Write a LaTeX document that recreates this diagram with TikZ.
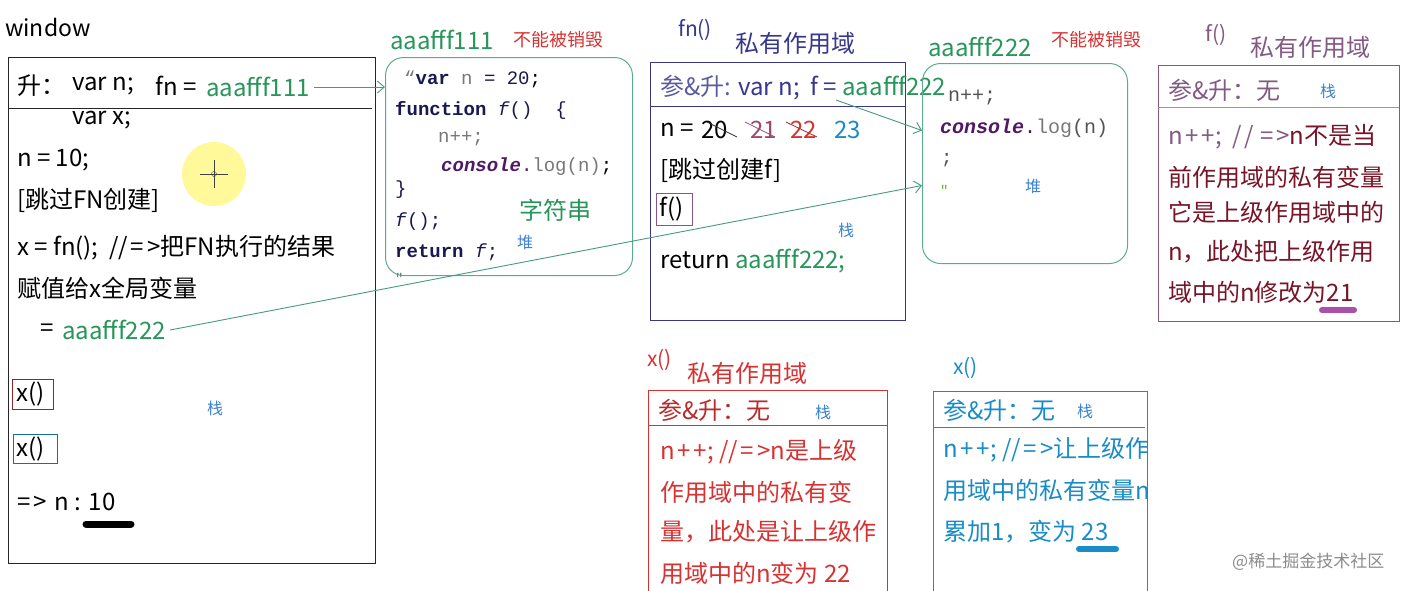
\documentclass[tikz,border=0pt]{standalone}
\usepackage{fontspec}
\setmainfont{Noto Sans CJK SC}
\newfontfamily\codefont{Liberation Mono}
\usetikzlibrary{arrows.meta}
\definecolor{cgreen}{RGB}{40,150,90}
\definecolor{arrowgreen}{RGB}{70,155,125}
\definecolor{heapborder}{RGB}{95,170,140}
\definecolor{navy}{RGB}{55,55,140}
\definecolor{navylt}{RGB}{90,90,160}
\definecolor{plum}{RGB}{140,85,130}
\definecolor{plumlt}{RGB}{130,90,130}
\definecolor{maroon}{RGB}{120,20,40}
\definecolor{cred}{RGB}{215,50,50}
\definecolor{cblue}{RGB}{25,140,200}
\definecolor{stackblue}{RGB}{60,130,210}
\definecolor{codenavy}{RGB}{25,25,80}
\definecolor{codegray}{RGB}{120,120,120}
\definecolor{codepurple}{RGB}{80,25,100}
\newcommand{\op}[1]{\hspace{0.12em}#1\hspace{0.12em}}
\begin{document}
\begin{tikzpicture}[x=1pt,y=-1pt,
  t/.style={anchor=west,inner sep=0pt,font=\fontsize{24}{24}\selectfont},
  small/.style={anchor=west,inner sep=0pt,font=\fontsize{18}{18}\selectfont},
  stk/.style={anchor=center,inner sep=0pt,text=stackblue,font=\fontsize{16}{16}\selectfont},
  code/.style={anchor=west,inner sep=0pt,font=\codefont\fontsize{19}{19}\selectfont},
  box/.style={anchor=north west,inner sep=0pt,line width=1pt},
  heap/.style={box,draw=heapborder,rounded corners=18pt},
  conn/.style={draw=arrowgreen,line width=0.9pt,-{Straight Barb[length=7pt,width=12pt]}},
  uline/.style={line width=6pt,line cap=round}
]
\useasboundingbox (0,0) rectangle (1410,590);
\fill[white] (0,0) rectangle (1410,590);

% ---------------- window ----------------
\node[t,font=\fontsize{23}{23}\selectfont] (wtitle) at (5,27) {window};
\node[box,draw=black!85,line width=1.3pt,minimum width=367pt,minimum height=506pt] (win) at (8,57) {};
\draw[black!85,line width=1pt] (8,108) -- (372,108);
\node[t] (wh1) at (17,86) {升：};
\node[t] (wh2) at (72,86) {var n;};
\node[t] (wh3) at (155,86) {fn =};
\node[t,text=cgreen] (w111) at (206,87) {aaafff111};
\node[t] (wvarx) at (72,120) {var x;};
\node[t] (wn10) at (17,160) {n = 10;};
\node[t] (wskip) at (17,200) {[跳过FN创建]};
\node[t] (wx) at (17,248) {x = fn();\ \ //\op{=}>把FN执行的结果};
\node[t] (wassign) at (17,288) {赋值给x全局变量};
\node[t] (weq) at (40,330) {=};
\node[t,text=cgreen] (w222) at (62,330) {aaafff222};
\fill[yellow!50!white,opacity=0.8] (214,174) circle (32pt);
\node[inner sep=0pt,minimum size=5pt,draw=black!70,circle] (cursor) at (214,174) {};
\draw[black!75,line width=0.8pt] (200,174) -- (228,174) (214,160) -- (214,188);
\node[box,draw=cred!70!black,minimum width=41pt,minimum height=30pt] (wxr) at (12,379) {};
\node[t] (wxrt) at (16,394) {x()};
\node[box,draw=cblue!80!black,minimum width=44pt,minimum height=29pt] (wxb) at (13,434) {};
\node[t] (wxbt) at (16,449) {x()};
\node[stk] (wstack) at (215,408) {栈};
\node[t] (wres) at (17,502) {=\op{>} n : 10};
\draw[uline,line width=7pt,black] (86,524) -- (131,524);

% ---------------- heap aaafff111 ----------------
\node[t,text=cgreen] (h111title) at (390,40) {aaafff111};
\node[small,text=cred] (h111keep) at (513,40) {不能被销毁};
\node[heap,minimum width=247pt,minimum height=218pt] (b111) at (385,57) {};
\node[code] (c1) at (404,79) {{\color{codegray}“}\textbf{\color{codenavy}var} {\color{codegray}n} {\color{codenavy}=} {\color{codenavy}20};};
\node[code] (c2) at (395,110) {\textbf{\color{codenavy}function} {\color{codenavy}\textit{f}()} \ {\color{codenavy}\{}};
\node[code,text=codegray] (c3) at (438,139) {n++;};
\node[code] (c4) at (441,167) {{\color{codepurple}\textbf{\textit{console}}.}{\color{codegray}log(n)};};
\node[code,text=codenavy] (c5) at (395,190) {\}};
\node[code,text=codenavy] (c6) at (395,222) {\textit{f}();};
\node[code,text=codenavy] (c7) at (395,252) {\textbf{return} \textit{f};};
\node[code,text=codegray,font=\codefont\fontsize{14}{14}\selectfont] (c8) at (395,278) {″};
\node[t,text=cgreen] (strlbl) at (519,210) {字符串};
\node[stk] (h111heap) at (525,242) {堆};

% ---------------- fn() scope ----------------
\node[t,text=navy,font=\fontsize{21}{21}\selectfont] (fntitle) at (678,30) {fn()};
\node[t,text=navy] (fnscope) at (735,43) {私有作用域};
\node[box,draw=navy,minimum width=255pt,minimum height=258pt] (bfn) at (650,62) {};
\draw[navy,line width=1pt] (650,106) -- (905,106);
\node[t] (fnh) at (660,88) {\textcolor{navylt}{参\&升:} \textcolor{navy}{var n;\ \ f =} \textcolor{cgreen}{aaafff222}};
\node[t] (fnn) at (660,130) {n =};
\node[t] (fn20) at (701,130) {20};
\node[t,text=plum!80!red] (fn21) at (750,130) {21};
\node[t,text=cred] (fn22) at (790,130) {22};
\node[t,text=cblue] (fn23) at (834,130) {23};
\draw[black!80,line width=0.8pt] (707,122) -- (737,137);
\draw[plum,line width=0.8pt] (745,122) -- (775,137);
\draw[cred!80!black,line width=0.8pt] (786,122) -- (817,137);
\node[t] (fnskip) at (660,170) {[跳过创建f]};
\node[box,draw=plum,minimum width=36pt,minimum height=32pt] (bfcall) at (656,193) {};
\node[t] (fcall) at (659,209) {f()};
\node[stk] (fnstack) at (846,230) {栈};
\node[t] (fnret) at (660,261) {return \textcolor{cgreen}{aaafff222;}};
\coordinate (fstart) at (836,100);

% ---------------- heap aaafff222 ----------------
\node[t,text=cgreen] (h222title) at (928,47) {aaafff222};
\node[small,text=cred] (h222keep) at (1051,40) {不能被销毁};
\node[heap,minimum width=205pt,minimum height=200pt] (b222) at (922,63) {};
\node[code,text=codegray!70!black,font=\codefont\fontsize{20}{20}\selectfont] (d1) at (948,97) {n++;};
\node[code,font=\codefont\fontsize{20}{20}\selectfont] (d2) at (940,128) {{\color{codepurple}\textbf{\textit{console}}.}{\color{codegray}log}{\color{codegray!70!black}(n)}};
\node[code,text=codegray!70!black] (d3) at (941,160) {;};
\node[code,text=cgreen!70!yellow,font=\codefont\fontsize{14}{14}\selectfont] (d4) at (940,190) {″};
\node[stk] (h222heap) at (1033,186) {堆};

% ---------------- f() scope ----------------
\node[t,text=plumlt,font=\fontsize{21}{21}\selectfont] (ftitle) at (1205,35) {f()};
\node[t,text=plumlt] (fscope) at (1250,47) {私有作用域};
\node[box,draw=plum,minimum width=241pt,minimum height=256pt] (bf) at (1158,65) {};
\draw[plum!70,line width=1pt] (1158,107) -- (1399,107);
\node[t,text=plumlt] (fh) at (1168,90) {参\&升：无};
\node[stk] (fstack) at (1328,91) {栈};
\node[t] (f1) at (1168,137) {\textcolor{plumlt}{n\op{+}+;\ \ /\op{/}\op{=}>}\textcolor{maroon}{n不是当}};
\node[t,text=maroon] (f2) at (1168,177) {前作用域的私有变量};
\node[t,text=maroon] (f3) at (1168,212) {它是上级作用域中的};
\node[t,text=maroon] (f4) at (1168,252) {n，此处把上级作用};
\node[t,text=maroon] (f5) at (1168,292) {域中的n修改为21};
\draw[uline,color={rgb,255:red,170;green,80;blue,170}] (1322,310) -- (1354,310);

% ---------------- x() red scope ----------------
\node[t,text=cred,font=\fontsize{21}{21}\selectfont] (xrtitle) at (647,360) {x()};
\node[t,text=cred] (xrscope) at (687,373) {私有作用域};
\node[box,draw=cred,minimum width=239pt,minimum height=215pt] (bxr) at (648,390) {};
\draw[cred,line width=1pt] (648,425) -- (887,425);
\node[t,text=cred!85!black] (xrh) at (658,410) {参\&升：无};
\node[stk] (xrstack) at (823,412) {栈};
\node[t,text=cred] (xr1) at (660,452) {n\op{+}+; //\op{=}>n是上级};
\node[t,text=cred] (xr2) at (660,492) {作用域中的私有变};
\node[t,text=cred] (xr3) at (660,532) {量，此处是让上级作};
\node[t,text=cred] (xr4) at (660,573) {用域中的n变为 22};

% ---------------- x() blue scope ----------------
\node[t,text=cblue,font=\fontsize{21}{21}\selectfont] (xbtitle) at (953,368) {x()};
\node[box,draw=cblue,minimum width=214pt,minimum height=215pt] (bxb) at (933,391) {};
\draw[cblue,line width=1pt] (933,427) -- (1145,427);
\node[t,text=cblue] (xbh) at (943,410) {参\&升：无};
\node[stk] (xbstack) at (1085,411) {栈};
\node[t,text=cblue] (xb1) at (943,450) {n\op{+}+; //\op{=}>让上级作};
\node[t,text=cblue] (xb2) at (943,490) {用域中的私有变量n};
\node[t,text=cblue] (xb3) at (943,532) {累加1，变为 23};
\draw[uline,color=cblue] (1079,549) -- (1116,549);

% watermark
\node[small,text=black!45,font=\fontsize{17}{17}\selectfont] (wm) at (1232,562) {@稀土掘金技术社区};

% ---------------- connectors ----------------
\draw[conn] ([xshift=4pt]w111.east) -- (b111.west |- w111.east);
\draw[conn] ([xshift=4pt]w222.east) -- ([yshift=-22pt]b222.west);
\draw[conn] (fstart) -- ([yshift=33pt]b222.west);
\end{tikzpicture}
\end{document}
